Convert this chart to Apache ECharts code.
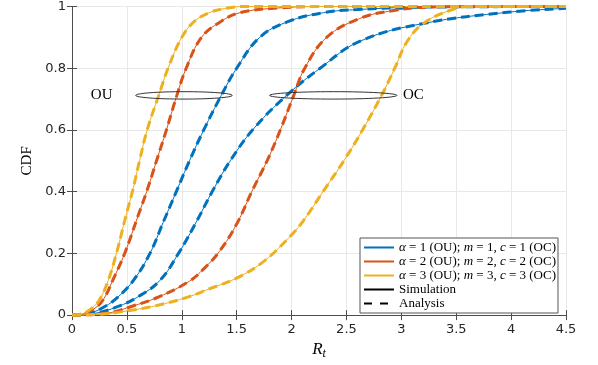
<!DOCTYPE html>
<html>
<head>
<meta charset="utf-8">
<script src="https://cdn.jsdelivr.net/npm/echarts@6/dist/echarts.min.js"></script>
<style>
  html, body { margin: 0; padding: 0; background: #fff; }
  #chart { width: 598px; height: 365px; }
</style>
</head>
<body>
<div id="chart"></div>
<script>
// CDF curves, points are [R_t, CDF]
// OU: alpha = 1, 2, 3
const ouAlpha1 = [[0, 0], [0.15, 0.005], [0.30, 0.028], [0.42, 0.059], [0.565, 0.115], [0.71, 0.2], [0.83, 0.3], [0.95, 0.4], [1.07, 0.5], [1.20, 0.6], [1.36, 0.712], [1.50, 0.8], [1.71, 0.9], [1.96, 0.95], [2.29, 0.98], [2.6, 0.99], [3.2, 0.998], [4.5, 1]];
const ouAlpha2 = [[0, 0], [0.1, 0.004], [0.23, 0.028], [0.30, 0.059], [0.37, 0.112], [0.48, 0.2], [0.60, 0.32], [0.68, 0.40], [0.77, 0.5], [0.86, 0.6], [0.955, 0.712], [1.04, 0.8], [1.18, 0.9], [1.35, 0.95], [1.53, 0.98], [1.87, 0.995], [2.3, 1], [3.2, 1], [4.5, 1]];
const ouAlpha3 = [[0, 0], [0.1, 0.005], [0.2, 0.028], [0.265, 0.059], [0.33, 0.112], [0.405, 0.2], [0.49, 0.32], [0.55, 0.40], [0.615, 0.5], [0.685, 0.6], [0.79, 0.712], [0.875, 0.8], [1.0, 0.9], [1.11, 0.95], [1.25, 0.98], [1.4, 0.994], [1.56, 1], [2.2, 1], [3.2, 1], [4.5, 1]];
// OC: m = c = 1, 2, 3
const ocM1 = [[0, 0], [0.2, 0.005], [0.42, 0.028], [0.60, 0.059], [0.80, 0.112], [0.97, 0.2], [1.14, 0.307], [1.28, 0.402], [1.445, 0.502], [1.65, 0.602], [1.955, 0.712], [2.26, 0.8], [2.62, 0.887], [3.2, 0.945], [3.99, 0.982], [4.5, 0.994]];
const ocM2 = [[0, 0], [0.3, 0.005], [0.54, 0.028], [0.79, 0.059], [1.07, 0.11], [1.2, 0.15], [1.34, 0.205], [1.5, 0.295], [1.64, 0.402], [1.78, 0.502], [1.90, 0.602], [2.02, 0.712], [2.12, 0.8], [2.32, 0.9], [2.62, 0.961], [2.93, 0.987], [3.25, 0.998], [3.8, 1], [4.5, 1]];
const ocM3 = [[0, 0], [0.3, 0.004], [0.51, 0.014], [0.76, 0.03], [1.06, 0.059], [1.25, 0.085], [1.5, 0.12], [1.75, 0.175], [2.0, 0.26], [2.11, 0.307], [2.29, 0.402], [2.48, 0.502], [2.65, 0.602], [2.82, 0.712], [2.94, 0.8], [3.05, 0.885], [3.2, 0.945], [3.44, 0.987], [3.62, 1], [4.0, 1], [4.5, 1]];

const xTicks = { min: 0, max: 4.5, interval: 0.5 };
const yTicks = { min: 0, max: 1, interval: 0.2 };

const legendKeys = ['a1', 'a2', 'a3', 'Simulation', 'Analysis'];
const legendText = {
  a1: '{i|α} = 1 (OU); {i|m} = 1, {i|c} = 1 (OC)',
  a2: '{i|α} = 2 (OU); {i|m} = 2, {i|c} = 2 (OC)',
  a3: '{i|α} = 3 (OU); {i|m} = 3, {i|c} = 3 (OC)',
  Simulation: 'Simulation',
  Analysis: 'Analysis'
};

// ellipse annotations: [center R_t, center CDF, half width, half height]
const ellipses = [[1.02, 0.712, 0.44, 0.012], [2.38, 0.712, 0.58, 0.012]];
const ellipseLabels = [[0.27, 0.712, 'OU'], [3.11, 0.712, 'OC']];

const colors = ['#0072BD', '#D95319', '#EDB120'];
const curves = [
  { key: 'a1', data: [ouAlpha1, ocM1] },
  { key: 'a2', data: [ouAlpha2, ocM2] },
  { key: 'a3', data: [ouAlpha3, ocM3] }
];
const axisColor = '#4d4d4d';
const dash = [9, 5];

const series = [];
curves.forEach((c, i) => {
  c.data.forEach(d => {
    series.push({
      name: c.key, type: 'line', data: d, symbol: 'none', smooth: 0.4,
      clip: false, z: 3,
      lineStyle: { color: colors[i], width: 1 }, itemStyle: { color: colors[i] }
    });
  });
});
curves.forEach((c, i) => {
  c.data.forEach(d => {
    series.push({
      name: c.key + '-analysis', type: 'line', data: d, symbol: 'none', smooth: 0.4,
      clip: false, z: 4,
      lineStyle: { color: colors[i], width: 3, type: dash }, itemStyle: { color: colors[i] }
    });
  });
});
series.push({ name: 'Simulation', type: 'line', data: [], symbol: 'none', lineStyle: { color: '#000', width: 1.2 }, itemStyle: { color: '#000' } });
series.push({ name: 'Analysis', type: 'line', data: [], symbol: 'none', lineStyle: { color: '#000', width: 3, type: [8, 8] }, itemStyle: { color: '#000' } });

series.push({
  type: 'custom', data: ellipses, z: 5, silent: true,
  renderItem: (params, api) => {
    const c = api.coord([api.value(0), api.value(1)]);
    const s = api.size([api.value(2), api.value(3)]);
    return {
      type: 'ellipse',
      shape: { cx: c[0], cy: c[1], rx: s[0], ry: s[1] },
      style: { fill: 'none', stroke: '#333', lineWidth: 1 }
    };
  }
});
series.push({
  type: 'custom', data: ellipseLabels, z: 5, silent: true,
  renderItem: (params, api) => {
    const c = api.coord([api.value(0), api.value(1)]);
    return {
      type: 'text', x: c[0], y: c[1],
      style: {
        text: ellipseLabels[params.dataIndex][2], fill: '#000',
        font: '15px "Liberation Serif"', align: 'center', verticalAlign: 'middle'
      }
    };
  }
});

const tickStyle = { color: '#262626', fontFamily: 'DejaVu Sans', fontSize: 13 };

const option = {
  animation: false,
  backgroundColor: '#fff',
  grid: { left: 72, right: 32, top: 6, bottom: 43 },
  xAxis: [
    {
      type: 'value', ...xTicks, position: 'bottom',
      name: '{r|R}{t|t}', nameLocation: 'middle', nameGap: 23,
      nameTextStyle: {
        rich: {
          r: { fontFamily: 'Liberation Serif', fontStyle: 'italic', fontSize: 17, color: '#000' },
          t: { fontFamily: 'Liberation Serif', fontStyle: 'italic', fontSize: 12, color: '#000', verticalAlign: 'bottom', padding: [9, 0, 0, 0] }
        }
      },
      axisLine: { show: true, lineStyle: { color: axisColor } },
      axisTick: { inside: true, length: 5, lineStyle: { color: axisColor } },
      axisLabel: { ...tickStyle, margin: 8, formatter: v => String(v) },
      splitLine: { show: true, lineStyle: { color: '#e8e8e8' } }
    },
    {
      type: 'value', ...xTicks, position: 'top',
      axisLine: { show: true, lineStyle: { color: axisColor } },
      axisTick: { inside: true, length: 5, lineStyle: { color: axisColor } },
      axisLabel: { show: false }, splitLine: { show: false }
    }
  ],
  yAxis: [
    {
      type: 'value', ...yTicks, position: 'left',
      name: 'CDF', nameLocation: 'middle', nameGap: 36,
      nameTextStyle: { fontFamily: 'Liberation Serif', fontSize: 15, color: '#000' },
      axisLine: { show: true, lineStyle: { color: axisColor } },
      axisTick: { inside: true, length: 5, lineStyle: { color: axisColor } },
      axisLabel: { ...tickStyle, margin: 6, formatter: v => String(Math.round(v * 10) / 10) },
      splitLine: { show: true, lineStyle: { color: '#e8e8e8' } }
    },
    {
      type: 'value', ...yTicks, position: 'right',
      axisLine: { show: true, lineStyle: { color: axisColor } },
      axisTick: { inside: true, length: 5, lineStyle: { color: axisColor } },
      axisLabel: { show: false }, splitLine: { show: false }
    }
  ],
  legend: {
    data: legendKeys, orient: 'vertical', left: 360, top: 238,
    backgroundColor: '#fff', borderColor: '#555', borderWidth: 1, borderRadius: 0,
    padding: [3, 2, 3, 3], itemGap: 1, itemWidth: 30, itemHeight: 12,
    itemStyle: { color: 'rgba(0,0,0,0)', borderColor: 'rgba(0,0,0,0)', borderWidth: 0 },
    formatter: name => legendText[name],
    textStyle: {
      fontFamily: 'Liberation Serif', fontSize: 13, color: '#000',
      rich: { i: { fontFamily: 'Liberation Serif', fontStyle: 'italic', fontSize: 13, color: '#000' } }
    },
    selectedMode: false
  },
  series
};

const chart = echarts.init(document.getElementById('chart'));
chart.setOption(option);
</script>
</body>
</html>
